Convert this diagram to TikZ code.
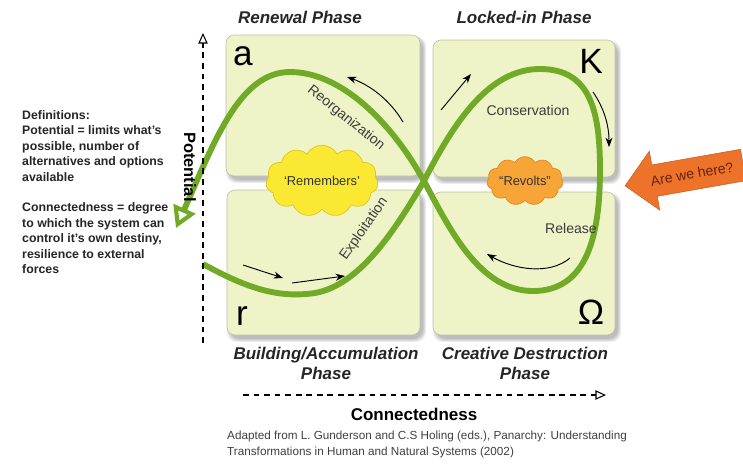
\documentclass[tikz,border=0pt]{standalone}
\usepackage{fontspec}
\setmainfont{Liberation Sans}
\usetikzlibrary{arrows.meta,shapes.symbols,shapes.arrows}
\definecolor{loopGreen}{RGB}{112,170,38}
\definecolor{boxFill}{RGB}{238,243,200}
\definecolor{boxLine}{RGB}{188,192,165}
\definecolor{cloudYellow}{RGB}{250,232,50}
\definecolor{cloudYellowLine}{RGB}{222,198,30}
\definecolor{cloudOrange}{RGB}{247,165,55}
\definecolor{cloudOrangeLine}{RGB}{222,135,35}
\definecolor{hereOrange}{RGB}{237,114,42}
\definecolor{hereLine}{RGB}{200,88,30}
\definecolor{hereText}{RGB}{105,35,10}
\definecolor{labelGray}{RGB}{60,60,60}
\tikzstyle{diagram} = [x = .03cm, y = -.03cm]
\tikzstyle{boxStyle} = [fill=boxFill, draw=boxLine, rounded corners = .24cm, line width = .5pt]
\tikzstyle{boxShadow} = [fill=black, opacity=.07, rounded corners = .3cm]
\tikzstyle{boxLetter} = [font=\fontsize{30}{30}\selectfont, inner sep = 0pt]
\tikzstyle{phaseTitle} = [font=\fontsize{14.5}{17}\selectfont\bfseries\itshape, align=center, text=black!85]
\tikzstyle{loopLine} = [color=loopGreen, line width = 5pt]
\tikzstyle{flowArrow} = [-{Stealth[length=8pt, width=6pt]}, line width = .8pt]
\tikzstyle{axisLine} = [dash pattern=on 5pt off 4pt, line width = .9pt, -{Triangle[open, length=9pt, width=8pt]}]
\tikzstyle{loopLabel} = [font=\fontsize{12}{14}\selectfont, text=labelGray]
\tikzstyle{cloudStyle} = [cloud, cloud puffs = 11, cloud puff arc = 120, aspect = 1.9, inner sep = 0pt, line width = .6pt, font=\fontsize{11}{13}\selectfont, text=black!80]
\tikzstyle{hereArrowStyle} = [single arrow, shape border rotate = 180, fill=hereOrange, draw=hereLine, minimum height = 3.6cm, single arrow head extend = .42cm, inner ysep = 9pt, font=\fontsize{12}{14}\selectfont, text=hereText]
\tikzstyle{smallText} = [font=\fontsize{10.5}{13.2}\selectfont\bfseries, align=left, text=black!85, inner sep = 0pt]
\tikzstyle{citeText} = [font=\fontsize{10}{13.5}\selectfont, align=left, text=black!75, inner sep = 0pt]
\newcommand{\phaseBox}[4]{
  \foreach \spread in {0,1,2,3} {
    \fill [boxShadow] (#1 - \spread + 3, #2 - \spread + 4) rectangle (#3 + \spread + 3, #4 + \spread + 4);
  }
  \filldraw [boxStyle] (#1, #2) rectangle (#3, #4);
}

\begin{document}
\begin{tikzpicture}[diagram]
      \fill [white] (0,0) rectangle (743,463);
      \useasboundingbox (0,0) rectangle (743,463);

      \phaseBox{226}{35}{420}{176}
      \phaseBox{433}{40}{615}{177}
      \phaseBox{227}{190}{420}{335}
      \phaseBox{433}{192}{615}{335}

      \node [boxLetter] (letterA) at (243,56) {a};
      \node [boxLetter] (letterK) at (591,61) {K};
      \node [boxLetter] (letterR) at (242,316) {r};
      \node [boxLetter] (letterOmega) at (591,312) {Ω};

      \node [cloudStyle, fill=cloudYellow, draw=cloudYellowLine, minimum width = 2.3cm, minimum height = 1.3cm] (remembersCloud) at (322,181) {‘Remembers’};
      \node [cloudStyle, fill=cloudOrange, draw=cloudOrangeLine, minimum width = 1.95cm, minimum height = 1.3cm] (revoltsCloud) at (525,181) {“Revolts”};

      % the adaptive cycle
      \draw [loopLine] (203,264) .. controls (250,290) and (280,298) .. (315,293)
        .. controls (360,285) and (395,230) .. (424,181)
        .. controls (455,120) and (490,69) .. (540,69)
        .. controls (590,69) and (600,110) .. (600,170)
        .. controls (600,240) and (585,291) .. (533,291)
        .. controls (480,291) and (450,230) .. (424,181);
      \draw [loopLine, -{Triangle[open, length=18pt, width=20pt, line width=3.5pt]}] (424,181)
        .. controls (390,120) and (340,72) .. (290,72)
        .. controls (240,72) and (215,140) .. (176,228);

      \draw [flowArrow] (243,265) -- (283,278);
      \draw [flowArrow] (292,283) -- (345,276);
      \draw [flowArrow] (441,110) -- (471,74);
      \draw [flowArrow] (593,92) .. controls (604,108) and (609,125) .. (609,147);
      \draw [flowArrow] (570,258) .. controls (550,275) and (515,270) .. (487,254);
      \draw [flowArrow] (403,122) .. controls (390,100) and (370,85) .. (347,77);

      \node [loopLabel, rotate = -39] (reorganizationLabel) at (346,118) {Reorganization};
      \node [loopLabel, rotate = 55] (exploitationLabel) at (364,229) {Exploitation};
      \node [loopLabel] (conservationLabel) at (528,110) {Conservation};
      \node [loopLabel] (releaseLabel) at (571,228) {Release};

      \node [phaseTitle] (renewalTitle) at (300,17) {Renewal Phase};
      \node [phaseTitle] (lockedTitle) at (524,17) {Locked-in Phase};
      \node [phaseTitle] (buildingTitle) at (326,363) {Building/Accumulation\\Phase};
      \node [phaseTitle] (destructionTitle) at (525,363) {Creative Destruction\\Phase};

      \coordinate (potentialStart) at (203,343);
      \coordinate (potentialEnd) at (203,33);
      \draw [axisLine] (potentialStart) -- (potentialEnd);
      \node [font=\fontsize{14}{16}\selectfont\bfseries, rotate = -90] (potentialLabel) at (190,167) {Potential};

      \coordinate (connectedStart) at (243,395);
      \coordinate (connectedEnd) at (606,395);
      \draw [axisLine] (connectedStart) -- (connectedEnd);
      \node [font=\fontsize{14.5}{16}\selectfont\bfseries] (connectedLabel) at (414,414) {Connectedness};

      \node [smallText, anchor = north west] (definitions) at (22,110) {Definitions:\\Potential = limits what's\\possible, number of\\alternatives and options\\available\\[13.2pt]Connectedness = degree\\to which the system can\\control it's own destiny,\\resilience to external\\forces};

      \node [citeText, anchor = north west] (citation) at (227,431) {Adapted from L. Gunderson and C.S Holing (eds.), Panarchy: Understanding\\Transformations in Human and Natural Systems (2002)};

      \node [hereArrowStyle, rotate = 10] (hereArrow) at (692,174) {Are we here?};
    \end{tikzpicture}
\end{document}
